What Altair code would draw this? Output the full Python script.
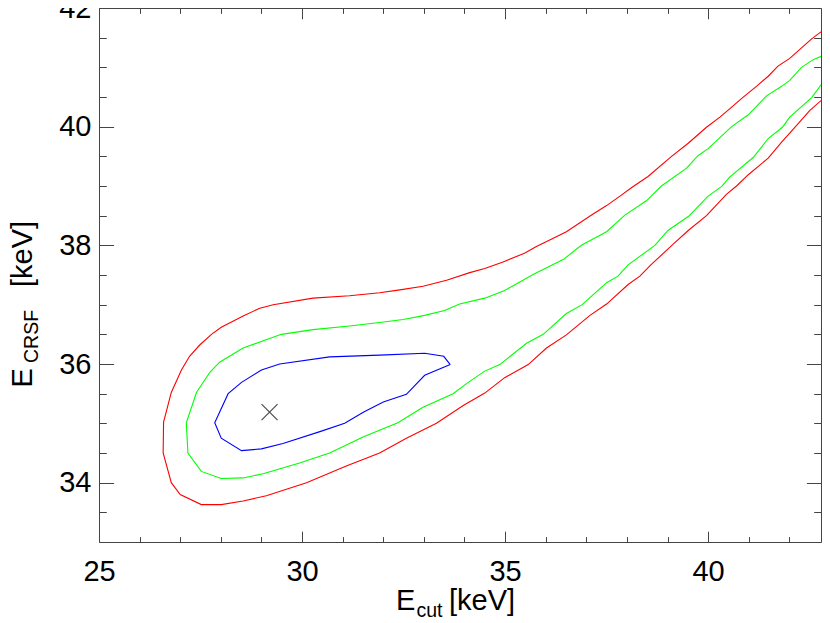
import altair as alt
import pandas as pd

# ---- data (E_cut, E_CRSF) ----
red_pts = [(42.98, 41.70), (42.55, 41.48), (42.01, 41.15), (41.72, 41.02), (41.48, 40.85),
           (41.19, 40.68), (40.85, 40.49), (40.53, 40.30), (40.29, 40.16), (39.96, 39.99),
           (39.51, 39.72), (39.10, 39.50), (38.52, 39.16), (38.11, 38.97), (37.83, 38.83),
           (37.50, 38.67), (37.13, 38.51), (36.51, 38.23), (36.10, 38.09), (35.77, 37.98),
           (35.49, 37.87), (34.95, 37.72), (34.50, 37.61), (34.13, 37.54), (33.56, 37.41),
           (32.98, 37.31), (32.41, 37.25), (31.91, 37.20), (31.17, 37.15), (30.27, 37.11),
           (29.29, 37.00), (28.96, 36.94), (28.55, 36.81), (28.01, 36.62), (27.77, 36.50),
           (27.48, 36.32), (27.23, 36.13), (27.03, 35.90), (26.78, 35.52), (26.59, 35.02),
           (26.58, 34.50), (26.78, 34.00), (27.00, 33.80), (27.52, 33.63), (28.01, 33.63),
           (28.55, 33.69), (29.12, 33.78), (30.11, 34.00), (31.09, 34.28), (31.91, 34.50),
           (32.57, 34.75), (33.31, 35.00), (33.97, 35.30), (34.50, 35.51), (34.99, 35.77),
           (35.57, 35.99), (36.02, 36.27), (36.51, 36.49), (37.09, 36.82), (37.50, 37.01),
           (38.03, 37.34), (38.32, 37.48), (38.59, 37.67), (39.14, 38.02), (39.51, 38.25),
           (39.96, 38.50), (40.45, 38.86), (40.70, 39.00), (40.99, 39.19), (41.48, 39.47),
           (41.81, 39.74), (42.18, 40.02), (42.50, 40.27), (42.98, 40.56)]

green_pts = [(42.98, 41.24), (42.59, 41.13), (42.30, 41.00), (42.01, 40.78), (41.81, 40.68),
             (41.44, 40.52), (40.99, 40.20), (40.58, 40.00), (40.00, 39.63), (39.75, 39.51),
             (39.47, 39.30), (38.85, 39.00), (38.48, 38.75), (37.95, 38.51), (37.50, 38.23),
             (36.88, 38.00), (36.43, 37.76), (35.69, 37.51), (35.44, 37.41), (34.99, 37.24),
             (34.50, 37.11), (33.88, 37.01), (33.51, 36.90), (33.02, 36.82), (32.49, 36.75),
             (31.91, 36.70), (31.17, 36.64), (30.27, 36.58), (29.49, 36.50), (29.08, 36.40),
             (28.55, 36.27), (27.97, 36.03), (27.73, 35.86), (27.40, 35.52), (27.15, 35.01),
             (27.19, 34.50), (27.52, 34.19), (28.01, 34.07), (28.55, 34.08), (29.04, 34.15),
             (29.94, 34.33), (30.68, 34.50), (31.17, 34.66), (31.50, 34.77), (32.36, 35.01),
             (32.98, 35.27), (33.72, 35.50), (34.05, 35.67), (34.50, 35.88), (34.87, 35.99),
             (35.53, 36.35), (35.94, 36.50), (36.51, 36.85), (36.90, 37.00), (37.09, 37.12),
             (37.50, 37.37), (37.78, 37.48), (38.03, 37.67), (38.69, 38.00), (39.01, 38.25),
             (39.52, 38.49), (40.00, 38.83), (40.33, 38.99), (40.53, 39.15), (41.11, 39.48),
             (41.48, 39.80), (41.83, 39.99), (42.01, 40.16), (42.55, 40.49), (42.98, 40.89)]

blue_pts = [(33.65, 35.99), (33.49, 36.13), (33.02, 36.18), (31.91, 36.15), (30.68, 36.12),
            (29.45, 36.00), (29.00, 35.90), (28.51, 35.69), (28.18, 35.50), (27.85, 35.01),
            (28.01, 34.75), (28.51, 34.54), (29.00, 34.57), (29.53, 34.66), (30.44, 34.86),
            (31.05, 35.00), (31.52, 35.19), (32.00, 35.36), (32.57, 35.49), (33.02, 35.81),
            (33.65, 35.99)]

best_fit = [(29.20, 35.19)]

x_major = [25, 30, 35, 40]
x_minor = [26, 27, 28, 29, 31, 32, 33, 34, 36, 37, 38, 39, 41, 42]
y_major = [34, 36, 38, 40, 42]
y_minor = [33.5, 34.5, 35, 35.5, 36.5, 37, 37.5, 38.5, 39, 39.5, 40.5, 41, 41.5]

x_title_parts = ["E", "cut", "[keV]"]
y_title_parts = ["E", "CRSF", "[keV]"]

# ---- styling ----
FONT = "Liberation Sans"
AX = "#444444"
W, H = 722, 534
xsc = alt.Scale(domain=[25, 42.78], nice=False, zero=False)
ysc = alt.Scale(domain=[33, 42], nice=False, zero=False)


def pts_df(pts):
    return pd.DataFrame({"x": [p[0] for p in pts], "y": [p[1] for p in pts],
                         "i": list(range(len(pts)))})


label_x_axis = alt.Axis(orient="bottom", values=x_major, ticks=False, tickSize=0, domain=False,
                        grid=False, labelPadding=15, labelFontSize=29, labelFont=FONT,
                        labelColor="black", title=None, labelFlush=False, labelOverlap=False)
label_y_axis = alt.Axis(orient="left", values=y_major, ticks=False, tickSize=0, domain=False,
                        grid=False, labelPadding=8, labelFontSize=29, labelFont=FONT,
                        labelColor="black", title=None, labelFlush=False, labelOverlap=False)


def line_layer(pts, color, with_axes=False):
    return alt.Chart(pts_df(pts)).mark_line(color=color, strokeWidth=1.1, clip=True).encode(
        x=alt.X("x:Q", scale=xsc, axis=label_x_axis if with_axes else None),
        y=alt.Y("y:Q", scale=ysc, axis=label_y_axis if with_axes else None),
        order="i:Q",
    )


def tick_layer(xorient, yorient, xvals, yvals, xlen, ylen):
    return alt.Chart(pts_df(best_fit)).mark_point(opacity=0).encode(
        x=alt.X("x:Q", scale=xsc,
                axis=alt.Axis(orient=xorient, values=xvals, tickSize=xlen, offset=-xlen,
                              labels=False, domain=False, grid=False, title=None,
                              tickColor=AX, tickWidth=1)),
        y=alt.Y("y:Q", scale=ysc,
                axis=alt.Axis(orient=yorient, values=yvals, tickSize=ylen, offset=-ylen,
                              labels=False, domain=False, grid=False, title=None,
                              tickColor=AX, tickWidth=1)),
    )


def text_layer(txt, px, py, size, angle=0):
    return alt.Chart(pd.DataFrame({"t": [txt]})).mark_text(
        text=txt, fontSize=size, font=FONT, align="left", baseline="alphabetic",
        angle=angle, color="black",
    ).encode(x=alt.value(px), y=alt.value(py))


red = line_layer(red_pts, "#ff0000", with_axes=True)
green = line_layer(green_pts, "#00ff00")
blue = line_layer(blue_pts, "#0000ff")

cross = alt.Chart(pts_df(best_fit)).mark_point(
    shape="M-1,-1L1,1M-1,1L1,-1", size=256, filled=False, stroke="black", strokeWidth=1.2
).encode(x=alt.X("x:Q", scale=xsc, axis=None), y=alt.Y("y:Q", scale=ysc, axis=None))

t_major_bl = tick_layer("bottom", "left", x_major, y_major, 10.8, 14.6)
t_minor_bl = tick_layer("bottom", "left", x_minor, y_minor, 5.4, 7.3)
t_major_tr = tick_layer("top", "right", x_major, y_major, 10.8, 14.6)
t_minor_tr = tick_layer("top", "right", x_minor, y_minor, 5.4, 7.3)

xt = [text_layer(x_title_parts[0], 297, 602, 29),
      text_layer(x_title_parts[1], 317.5, 608.5, 19.5),
      text_layer(x_title_parts[2], 350, 602, 29)]
yt = [text_layer(y_title_parts[0], -67.3, 379.5, 29, 270),
      text_layer(y_title_parts[1], -60.8, 355, 19.5, 270),
      text_layer(y_title_parts[2], -67.3, 279, 29, 270)]

chart = alt.layer(
    t_major_bl, t_minor_bl, t_major_tr, t_minor_tr, red, green, blue, cross, *xt, *yt
).resolve_axis(x="independent", y="independent").properties(
    width=W, height=H,
    autosize=alt.AutoSizeParams(type="none"),
    padding={"left": 91, "top": 0, "right": 1, "bottom": 80},
).configure_view(stroke=AX, strokeWidth=1)

chart.save("out.html", embed_options={"renderer": "svg", "actions": False})
